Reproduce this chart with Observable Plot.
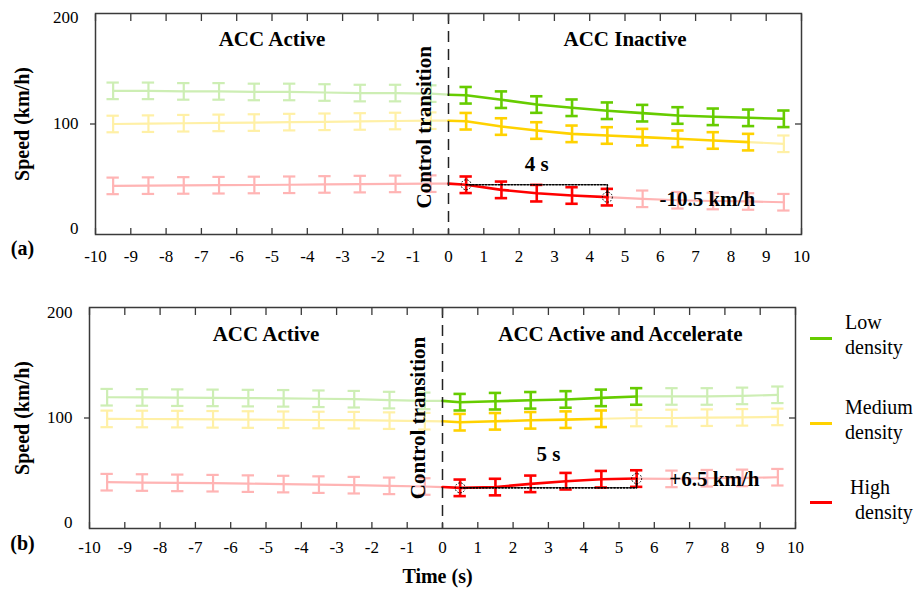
<!DOCTYPE html>
<html><head><meta charset="utf-8">
<script src="https://cdn.jsdelivr.net/npm/d3@7"></script>
<script src="https://cdn.jsdelivr.net/npm/@observablehq/plot@0.6"></script>
<style>
body{margin:0;background:#fff;}
#wrap{position:relative;width:915px;height:594px;overflow:hidden;background:#fff;font-family:"Liberation Serif","Times New Roman",serif;}
#wrap svg{position:absolute;left:0;}
.leg-line{position:absolute;width:22px;height:3px;}
.leg-text{position:absolute;font-size:20px;line-height:25px;color:#000;white-space:nowrap;}
</style></head><body><div id="wrap"></div>
<script>
// ---------- data ----------
const timesPre  = [-9.5,-8.5,-7.5,-6.5,-5.5,-4.5,-3.5,-2.5,-1.5,-0.5];
const timesPost = [0.5,1.5,2.5,3.5,4.5,5.5,6.5,7.5,8.5,9.5];
const xTicks = [-10,-9,-8,-7,-6,-5,-4,-3,-2,-1,0,1,2,3,4,5,6,7,8,9,10];
const yTicks = [0,100,200];
const densities = ["Low density","Medium density","High density"];
const errHalf = 7.5;   // km/h, half-height of error bars

// panel (a): ACC Active -> ACC Inactive
const aLowPre   = [130,130,129.5,129.5,129,129,128.5,128,128,127.5];
const aLowT0    = 126.5;
const aLowPost  = [126,122,117.6,114.7,112,109.8,107.7,106.5,105.6,104.7];
const aMedPre   = [100,100.3,100.7,101,101.3,101.7,102,102.3,102.7,103];
const aMedT0    = 103;
const aMedPost  = [102.5,97.7,94.1,91.1,89.6,88.1,86.6,85.1,83.6,82.1];
const aHighPre  = [44,44.2,44.4,44.6,44.8,45,45.3,45.6,45.8,46];
const aHighT0   = 46;
const aHighPost = [45,40.4,37.4,35.3,33.8,32.3,31,30.3,29.9,29.2];
const aSolidN   = [10,9,5];

// panel (b): ACC Active -> ACC Active and Accelerate
const bLowPre   = [118.8,118.6,118.4,118.2,118,117.8,117.4,117,116.2,115.5];
const bLowT0    = 115.5;
const bLowPost  = [114.3,115.2,116,116.8,118.2,119.5,119.5,119.5,120,121];
const bMedPre   = [99.2,99.1,99,98.8,98.6,98.4,98.2,98,97.6,97.1];
const bMedT0    = 97;
const bMedPost  = [96.2,97,97.9,98.5,99.3,100,100,100.3,100.6,101];
const bHighPre  = [41.9,41.6,41.3,41,40.6,40.2,39.7,39.2,38.6,38];
const bHighT0   = 37.5;
const bHighPost = [36.8,37.5,40.4,42.8,44.6,45.2,44.9,45.5,45.8,46.4];
const bSolidN   = [6,5,6];

// ---------- styles ----------
const FONT = '"Liberation Serif","Times New Roman",serif';
const solidColors = ["#66cc00","#ffd200","#ff0000"];
const fadedColors = ["#cdeeb4","#fff0a6","#ffb4b4"];
const frameColor = "#3a3a3a";
const capHalf = 0.175;

function panel(cfg) {
  const marks = [];
  const series = cfg.series;
  const zip = (xs, ys) => ys.map((y, i) => ({x: xs[i], y}));
  series.forEach((s, i) => {
    const pre = zip(timesPre, s.pre);
    const post = zip(timesPost, s.post);
    const preLine = [...pre, {x: 0, y: s.t0}];
    const fadedPost = post.slice(s.solidN - 1);
    const fadedBars = [...pre, ...post.slice(s.solidN)];
    marks.push(Plot.line(preLine, {x: "x", y: "y", stroke: fadedColors[i], strokeWidth: 2.2}));
    if (fadedPost.length > 1) marks.push(Plot.line(fadedPost, {x: "x", y: "y", stroke: fadedColors[i], strokeWidth: 2.2}));
    marks.push(Plot.ruleX(fadedBars, {x: "x", y1: d => d.y - errHalf, y2: d => d.y + errHalf, stroke: fadedColors[i], strokeWidth: 2.2}));
    marks.push(Plot.ruleY(fadedBars, {y: d => d.y - errHalf, x1: d => d.x - capHalf, x2: d => d.x + capHalf, stroke: fadedColors[i], strokeWidth: 2.2}));
    marks.push(Plot.ruleY(fadedBars, {y: d => d.y + errHalf, x1: d => d.x - capHalf, x2: d => d.x + capHalf, stroke: fadedColors[i], strokeWidth: 2.2}));
  });
  series.forEach((s, i) => {
    const post = zip(timesPost, s.post);
    const solidLine = [{x: 0, y: s.t0}, ...post.slice(0, s.solidN)];
    const solidBars = post.slice(0, s.solidN);
    marks.push(Plot.line(solidLine, {x: "x", y: "y", stroke: solidColors[i], strokeWidth: 2.6}));
    marks.push(Plot.ruleX(solidBars, {x: "x", y1: d => d.y - errHalf, y2: d => d.y + errHalf, stroke: solidColors[i], strokeWidth: 2.6}));
    marks.push(Plot.ruleY(solidBars, {y: d => d.y - errHalf, x1: d => d.x - capHalf, x2: d => d.x + capHalf, stroke: solidColors[i], strokeWidth: 2.6}));
    marks.push(Plot.ruleY(solidBars, {y: d => d.y + errHalf, x1: d => d.x - capHalf, x2: d => d.x + capHalf, stroke: solidColors[i], strokeWidth: 2.6}));
  });
  // annotation (high density): dotted elbow and circles
  const h = series[2];
  const i1 = cfg.annotEnd;
  const p0 = {x: timesPost[0], y: h.post[0]};
  const p1 = {x: timesPost[i1], y: h.post[i1]};
  marks.push(Plot.line([p0, {x: p1.x, y: p0.y}, p1], {x: "x", y: "y", stroke: "#000", strokeWidth: 1.6, strokeDasharray: "1.6,1.6"}));
  marks.push(Plot.dot([p0, p1], {x: "x", y: "y", r: 5, stroke: "#000", strokeWidth: 1, strokeDasharray: "1.5,1.5", fill: "none"}));
  // dashed transition line
  marks.push(Plot.ruleX([0], {stroke: "#222", strokeWidth: 1.5, strokeDasharray: "11,7"}));
  // frame and axes
  marks.push(Plot.frame({stroke: frameColor, strokeWidth: 1.5}));
  marks.push(Plot.axisX({anchor: "bottom", ticks: xTicks, tickSize: 0, tickPadding: cfg.xPad, tickFormat: d => String(d), fontSize: 17, fontFamily: FONT, label: null}));
  marks.push(Plot.axisX({anchor: "bottom", ticks: xTicks, tickSize: -6, text: null, stroke: frameColor, strokeWidth: 1.3, label: null}));
  marks.push(Plot.axisX({anchor: "top", ticks: xTicks, tickSize: -7, text: null, stroke: frameColor, strokeWidth: 1.3, label: null}));
  marks.push(Plot.axisY({anchor: "left", ticks: [100], tickSize: 5, text: null, stroke: frameColor, strokeWidth: 1.3, label: null}));
  marks.push(Plot.axisY({anchor: "right", ticks: [100], tickSize: -7, text: null, stroke: frameColor, strokeWidth: 1.3, label: null}));
  yTicks.forEach((t, k) => {
    marks.push(Plot.text([t], {y: d => d, text: d => String(d), frameAnchor: "left", dx: -17, dy: cfg.yLabelDy[k], textAnchor: "end", fontSize: 17, fontFamily: FONT}));
  });
  marks.push(Plot.text(["Speed (km/h)"], {text: d => d, frameAnchor: "left", dx: cfg.labelDx, rotate: -90, textAnchor: "middle", fontSize: 20, fontWeight: "bold", fontFamily: FONT}));
  marks.push(Plot.text([cfg.tag], {text: d => d, frameAnchor: "bottom-left", dx: cfg.labelDx, dy: cfg.tagDy, textAnchor: "middle", fontSize: 20, fontWeight: "bold", fontFamily: FONT}));
  marks.push(Plot.text(cfg.texts, {x: "x", y: "y", text: "text", rotate: d => d.rotate || 0, textAnchor: "middle", fontSize: 21, fontWeight: "bold", fontFamily: FONT, fill: "#000"}));
  if (cfg.xLabel) marks.push(Plot.text([cfg.xLabel], {text: d => d, frameAnchor: "bottom", dy: cfg.xLabelDy, dx: -5, textAnchor: "middle", fontSize: 20, fontWeight: "bold", fontFamily: FONT}));
  return Plot.plot({
    width: 915, height: cfg.height,
    marginLeft: cfg.ml, marginRight: cfg.mr, marginTop: cfg.mt, marginBottom: cfg.mb,
    x: {domain: [-10, 10], axis: null},
    y: {domain: [0, 200], axis: null},
    style: {fontFamily: FONT, fontSize: "17px", color: "#000", background: "transparent", overflow: "visible"},
    marks
  });
}

const svgA = panel({
  height: 270, ml: 95, mr: 114, mt: 13, mb: 36, xPad: 15, yLabelDy: [-6, 0, 4],
  labelDx: -73, tag: "(a)", tagDy: 20, annotEnd: 4,
  series: [
    {pre: aLowPre, t0: aLowT0, post: aLowPost, solidN: aSolidN[0]},
    {pre: aMedPre, t0: aMedT0, post: aMedPost, solidN: aSolidN[1]},
    {pre: aHighPre, t0: aHighT0, post: aHighPost, solidN: aSolidN[2]}
  ],
  texts: [
    {x: -5, y: 177, text: "ACC Active"},
    {x: 5, y: 177, text: "ACC Inactive"},
    {x: -0.68, y: 97, text: "Control transition", rotate: -90},
    {x: 2.5, y: 64, text: "4 s"},
    {x: 7.33, y: 32, text: "-10.5 km/h"}
  ]
});
svgA.style.top = "0px";

const svgB = panel({
  height: 304, ml: 89, mr: 120, mt: 17, mb: 66, xPad: 12, yLabelDy: [-6, 0, 5],
  labelDx: -67, tag: "(b)", tagDy: 21, annotEnd: 5, xLabel: "Time (s)", xLabelDy: 54,
  series: [
    {pre: bLowPre, t0: bLowT0, post: bLowPost, solidN: bSolidN[0]},
    {pre: bMedPre, t0: bMedT0, post: bMedPost, solidN: bSolidN[1]},
    {pre: bHighPre, t0: bHighT0, post: bHighPost, solidN: bSolidN[2]}
  ],
  texts: [
    {x: -5, y: 176, text: "ACC Active"},
    {x: 5.04, y: 176, text: "ACC Active and Accelerate"},
    {x: -0.68, y: 100, text: "Control transition", rotate: -90},
    {x: 3, y: 67, text: "5 s"},
    {x: 7.7, y: 45, text: "+6.5 km/h"}
  ]
});
svgB.style.top = "290px";

const wrap = document.getElementById("wrap");
wrap.appendChild(svgA);
wrap.appendChild(svgB);

// legend
const legLineY = [338, 423, 502];
const legTextTop = [309.5, 394.5, 474.5];
const legTextLeft = [845, 845, 850];
densities.forEach((name, i) => {
  const line = document.createElement("div");
  line.className = "leg-line";
  line.style.left = "810px";
  line.style.top = (legLineY[i] - 1.5) + "px";
  line.style.background = solidColors[i];
  wrap.appendChild(line);
  const txt = document.createElement("div");
  txt.className = "leg-text";
  txt.style.left = legTextLeft[i] + "px";
  txt.style.top = legTextTop[i] + "px";
  const parts = name.split(" ");
  txt.innerHTML = parts[0] + "<br>" + (i === 2 ? "&nbsp;" : "") + parts[1];
  wrap.appendChild(txt);
});
</script>
</body></html>
